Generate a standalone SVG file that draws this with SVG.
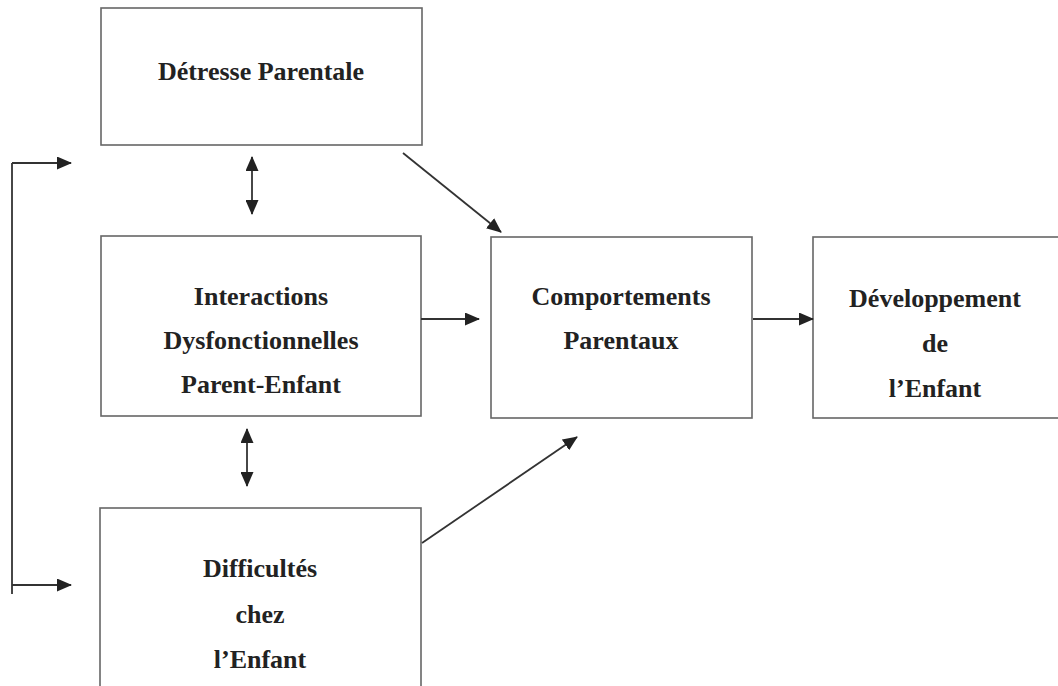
<svg xmlns="http://www.w3.org/2000/svg" width="1058" height="686" viewBox="0 0 1058 686">
<defs>
<marker id="ah" markerWidth="15" markerHeight="13" refX="14" refY="6.5" orient="auto-start-reverse" markerUnits="userSpaceOnUse">
<path d="M0,0 L15,6.5 L0,13 Z" fill="#222"/>
</marker>
<style>
.box{fill:#fff;stroke:#666;stroke-width:1.6}
.t{font-family:"Liberation Serif","Times New Roman",serif;font-weight:bold;font-size:26px;fill:#222;text-anchor:middle}
.c{stroke:#333;stroke-width:1.8;fill:none}
</style>
</defs>
<rect width="1058" height="686" fill="#fff"/>
<g id="detresse">
<rect class="box" x="101" y="8" width="321" height="137"/>
<text class="t" x="261" y="80">Détresse Parentale</text>
</g>
<g id="interactions">
<rect class="box" x="101" y="236" width="320" height="180"/>
<text class="t" x="261" y="305">Interactions</text>
<text class="t" x="261" y="349">Dysfonctionnelles</text>
<text class="t" x="261" y="393">Parent-Enfant</text>
</g>
<g id="difficultes">
<rect class="box" x="100" y="508" width="321" height="190"/>
<text class="t" x="260" y="577">Difficultés</text>
<text class="t" x="260" y="623">chez</text>
<text class="t" x="260" y="668">l’Enfant</text>
</g>
<g id="comportements">
<rect class="box" x="491" y="237" width="261" height="181"/>
<text class="t" x="621" y="305">Comportements</text>
<text class="t" x="621" y="349">Parentaux</text>
</g>
<g id="developpement">
<rect class="box" x="813" y="237" width="250" height="181"/>
<text class="t" x="935" y="307">Développement</text>
<text class="t" x="935" y="352">de</text>
<text class="t" x="935" y="397">l’Enfant</text>
</g>
<g id="connectors">
<line class="c" x1="12" y1="163" x2="12" y2="594"/>
<line class="c" x1="12" y1="163" x2="71" y2="163" marker-end="url(#ah)"/>
<line class="c" x1="12" y1="585" x2="71" y2="585" marker-end="url(#ah)"/>
<line class="c" x1="252" y1="157" x2="252" y2="214" marker-start="url(#ah)" marker-end="url(#ah)"/>
<line class="c" x1="247" y1="429" x2="247" y2="486" marker-start="url(#ah)" marker-end="url(#ah)"/>
<line class="c" x1="403" y1="153" x2="501" y2="232" marker-end="url(#ah)"/>
<line class="c" x1="421" y1="319" x2="479" y2="319" marker-end="url(#ah)"/>
<line class="c" x1="422" y1="543" x2="577" y2="437" marker-end="url(#ah)"/>
<line class="c" x1="753" y1="319" x2="813" y2="319" marker-end="url(#ah)"/>
</g>
</svg>
